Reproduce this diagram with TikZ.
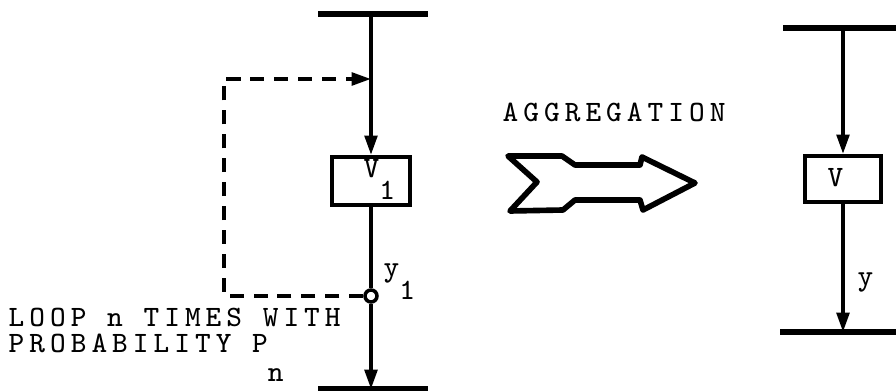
\documentclass[tikz,border=0pt]{standalone}
\usepackage{fontspec}
\setmonofont{Latin Modern Mono}[LetterSpace=17]
\usetikzlibrary{arrows.meta}

\begin{document}
\begin{tikzpicture}[x=0.01cm,y=-0.01cm,
  >={Triangle[length=5.5pt,width=3.6pt]},
  font=\ttfamily\fontsize{8.4}{10}\selectfont,
  bar/.style={line width=1.5pt},
  flow/.style={->,line width=1pt},
  loopline/.style={->,line width=1pt,dash pattern=on 4pt off 2.8pt},
  unitbox/.style={draw,line width=1.2pt,minimum width=0.78cm,
    minimum height=0.48cm,inner sep=0pt},
  txt/.style={anchor=base west,inner sep=0pt}]

  \useasboundingbox (0,0) rectangle (896,391);

  % zerlegte Form: Schleife um V_1
  \coordinate (top1) at (371,14);
  \coordinate (bot1) at (371,389);
  \coordinate (j1)   at (371,79);
  \coordinate (lt)   at (224,79);
  \coordinate (lb)   at (224,296);

  \draw[bar] (318,14) -- (428,14);
  \draw[bar] (318,389) -- (428,389);

  \node[unitbox] (v1) at (371,181) {};
  \node[circle,draw,line width=1pt,fill=white,
    minimum size=0.12cm,inner sep=0pt] (c1) at (371,296) {};

  \draw[flow] (top1) -- (v1.north);
  \draw[line width=1pt] (v1.south) -- (c1.north);
  \draw[flow] (c1.south) -- (bot1);

  % Rueckkopplung, gestrichelt
  \draw[loopline] (c1.west) -- (lb) -- (lt) -- (j1);

  \node[txt] (v1lab) at (363,178) {V\raisebox{-6pt}{1}};
  \node[txt] (y1lab) at (383,277) {y\raisebox{-6.5pt}{1}};
  \node[txt] (loop)  at (8,327) {LOOP n TIMES WITH};
  \node[txt] (prob)  at (8,353) {PROBABILITY P\raisebox{-8pt}{n}};

  % Uebergang
  \node[txt] (agg) at (502,122) {AGGREGATION};
  \draw[line width=1.6pt,line join=round]
    (508,156) -- (562,156) -- (575,165) -- (640,165) -- (642,157)
    -- (695,183) -- (643,210) -- (640,200) -- (575,200) -- (563,210)
    -- (510,211) -- (537,182) -- cycle;

  % aggregierte Form
  \coordinate (top2) at (843,28);
  \coordinate (bot2) at (843,332);

  \draw[bar] (783,28) -- (896,28);
  \draw[bar] (780,332) -- (896,332);

  \node[unitbox,minimum width=0.76cm,minimum height=0.46cm] (v2) at (843,179) {};

  \draw[flow] (top2) -- (v2.north);
  \draw[flow] (v2.south) -- (bot2);

  \node[txt] (vlab) at (827,186) {V};
  \node[txt] (ylab) at (857,285) {y};

\end{tikzpicture}
\end{document}
